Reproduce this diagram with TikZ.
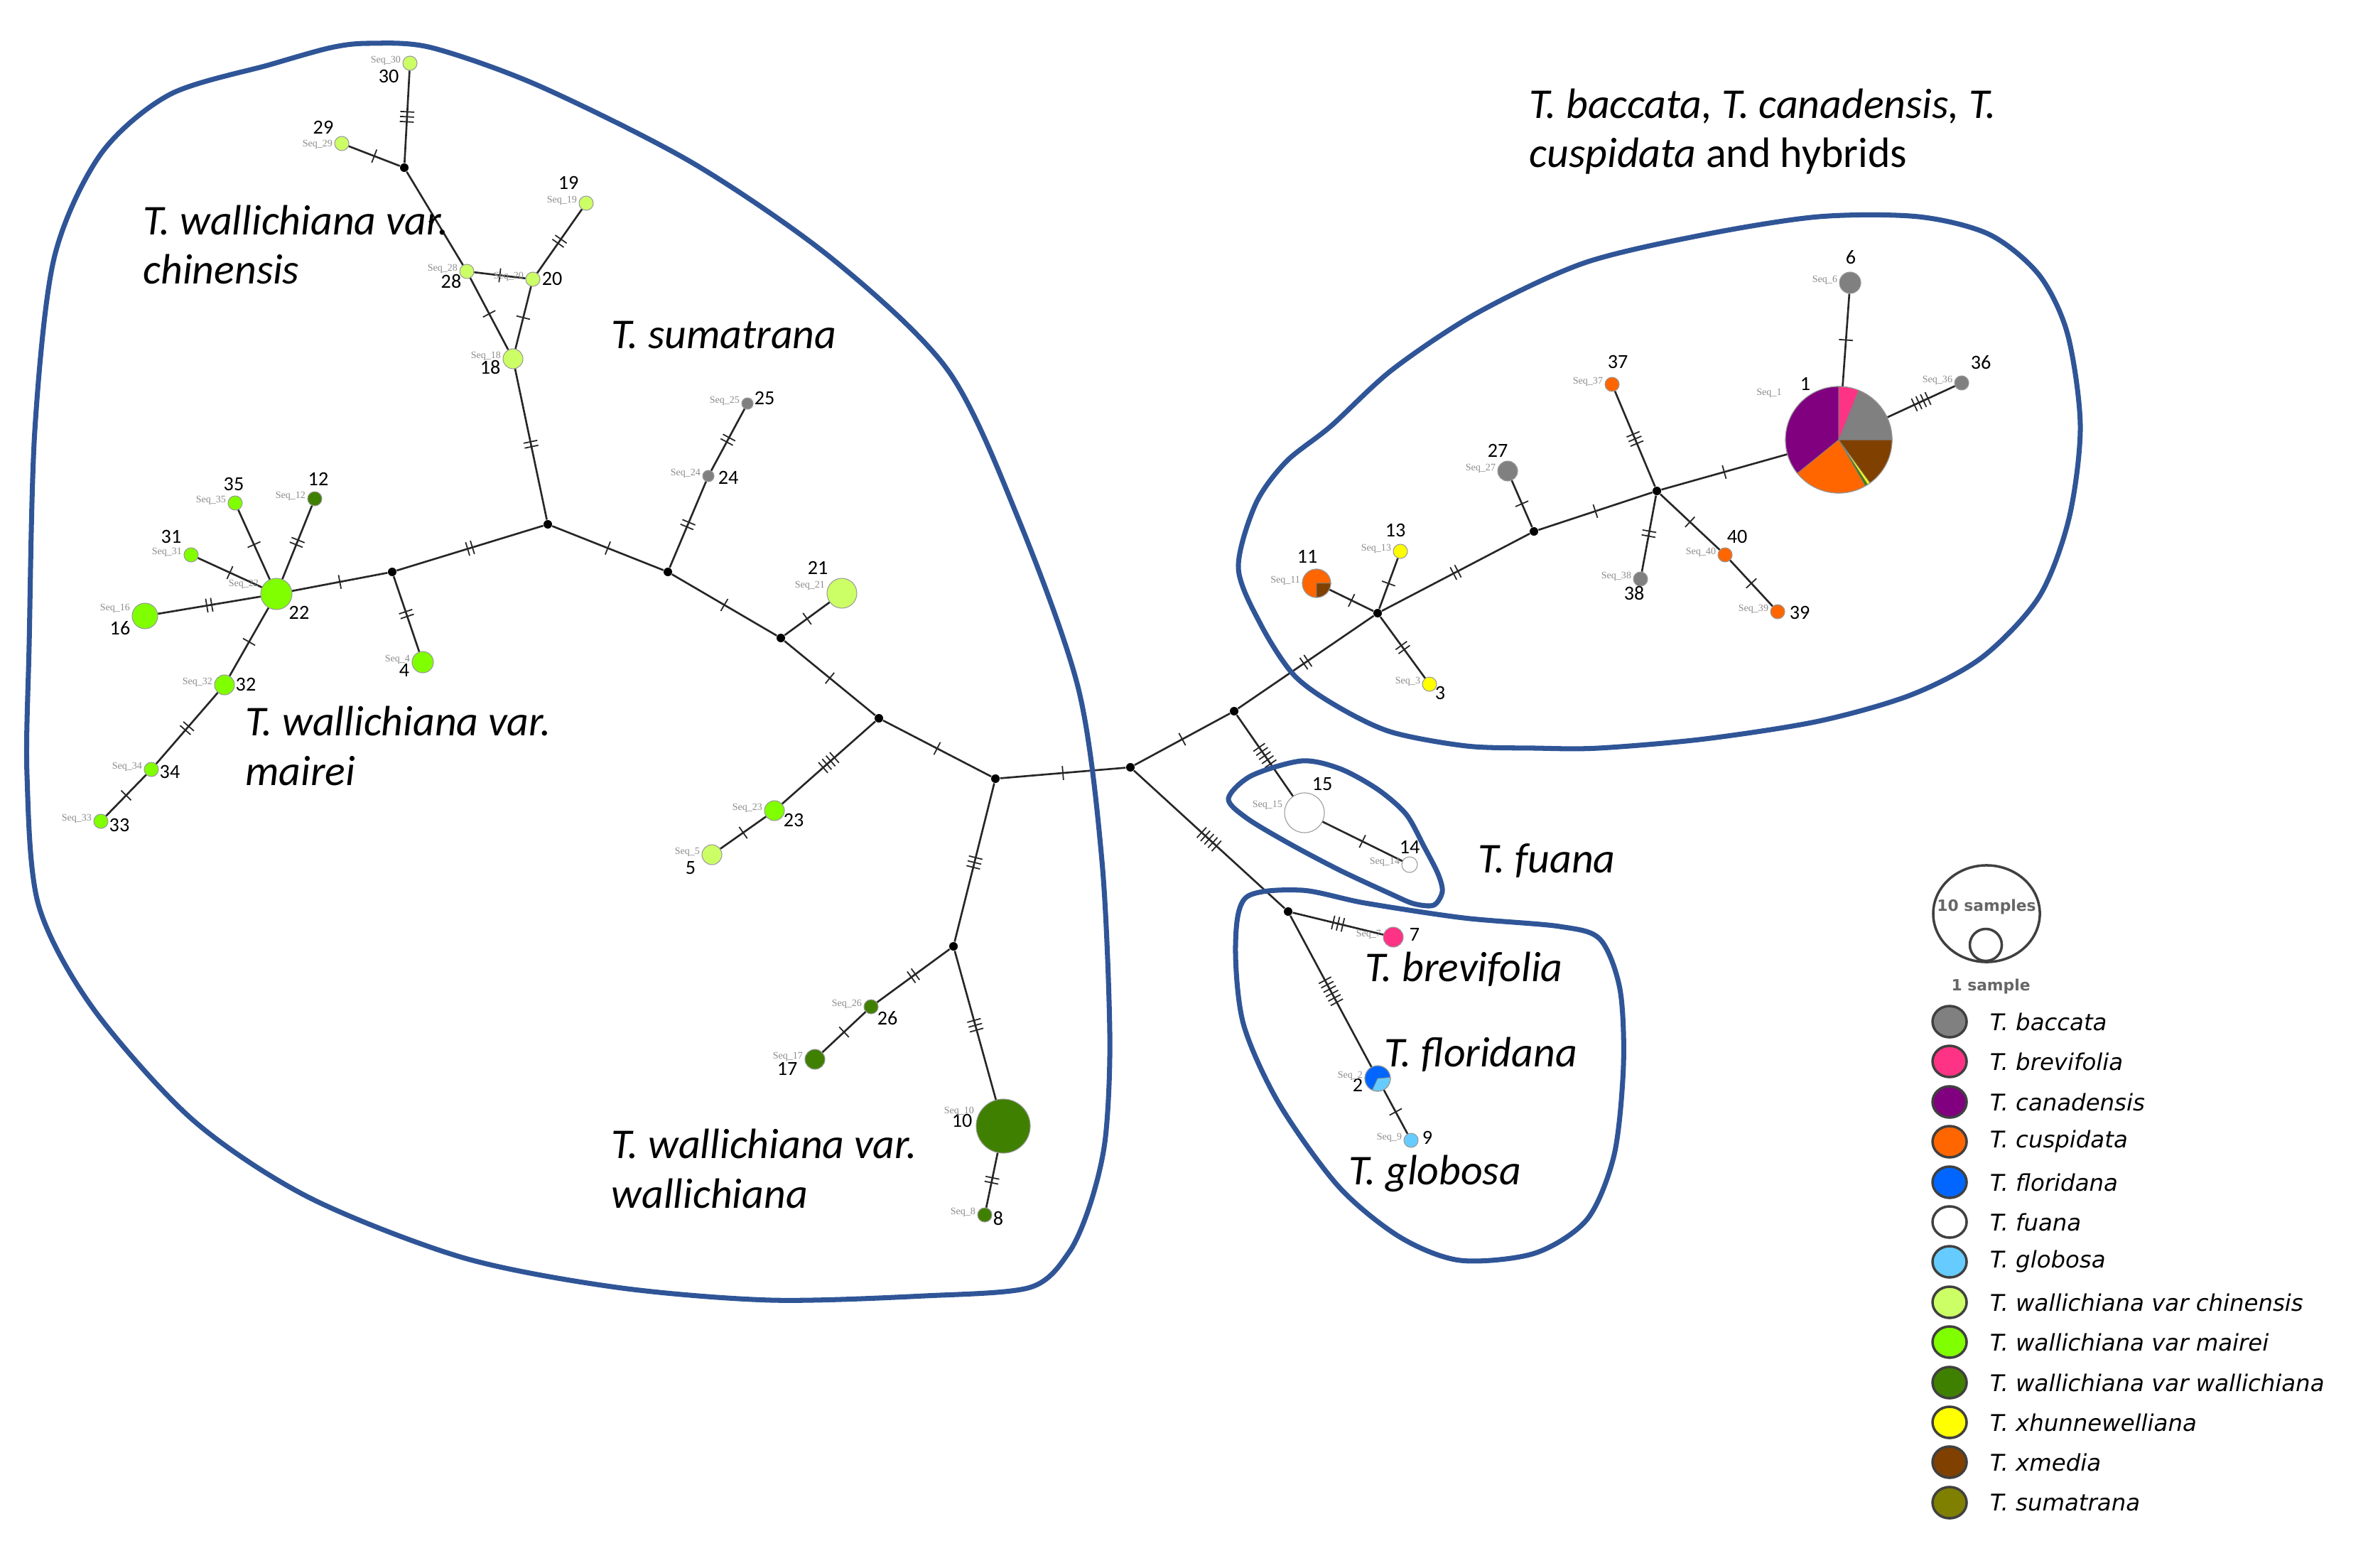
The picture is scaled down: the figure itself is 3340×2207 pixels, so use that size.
\documentclass[tikz,border=0pt]{standalone}
\usepackage{fontspec}
\setmainfont{Carlito}
\newfontfamily\legfont{DejaVu Sans}
\newfontfamily\seqfont{Liberation Serif}
\usetikzlibrary{decorations.markings, shapes.geometric}

\definecolor{baccata}{HTML}{808080}
\definecolor{brevifolia}{HTML}{FF3385}
\definecolor{canadensis}{HTML}{800080}
\definecolor{cuspidata}{HTML}{FF6600}
\definecolor{floridana}{HTML}{0066FF}
\definecolor{globosa}{HTML}{66CCFF}
\definecolor{chinensis}{HTML}{CCFF66}
\definecolor{mairei}{HTML}{80FF00}
\definecolor{wallich}{HTML}{408000}
\definecolor{hunnew}{HTML}{FFFF00}
\definecolor{xmedia}{HTML}{804000}
\definecolor{sumatrana}{HTML}{808000}
\definecolor{hull}{HTML}{2F5597}

\tikzset{
  hap/.style={circle, inner sep=0pt, minimum size=#1*0.02cm, draw=black!40, line width=0.3pt},
  median/.style={circle, fill=black, inner sep=0pt, minimum size=0.12cm},
  link/.style={line width=0.75pt, black!85},
  mut/.style={postaction={decorate, decoration={markings,
    mark=at position 0.5 with {\foreach \k in {1,...,#1} {\draw[line width=0.5pt] ({(\k-(#1+1)/2)*2pt},-2.8pt) -- ++(0,5.6pt);}}}}},
  num/.style={font=\fontsize{8}{9}\selectfont, inner sep=0pt},
  seq/.style={font=\seqfont\fontsize{4}{4}\selectfont, text=black!45, inner sep=0.5pt, anchor=east},
  grouplabel/.style={font=\fontsize{17}{19.9}\selectfont\itshape, inner sep=0pt, anchor=base west, align=left},
  hullline/.style={draw=hull, line width=2pt},
  legdot/.style={ellipse, draw=black!75, line width=1pt, minimum width=0.48cm, minimum height=0.44cm, inner sep=0pt},
  legtext/.style={font=\legfont\itshape\fontsize{9.2}{10}\selectfont, anchor=west, inner sep=0pt},
  sizetext/.style={font=\legfont\bfseries\fontsize{6.2}{6.5}\selectfont, text=black!60, inner sep=0pt},
}

% one wedge of a pie chart: x, y, radius, start, end, colour
\newcommand{\pieslice}[6]{\fill[#6, draw=black!50, line width=0.2pt] (#1,#2) -- ++(#4:#3) arc[start angle=#4, end angle=#5, radius=#3] -- cycle;}

\begin{document}
\begin{tikzpicture}[x=0.01cm, y=-0.01cm]
  \useasboundingbox (0,0) rectangle (3340,2207);

  % Pie charts of the mixed haplotypes
  \pieslice{2588}{619}{75}{-90}{-219}{canadensis}
  \pieslice{2588}{619}{75}{-219}{-300}{cuspidata}
  \pieslice{2588}{619}{75}{-300}{-303}{wallich}
  \pieslice{2588}{619}{75}{-303}{-306}{hunnew}
  \pieslice{2588}{619}{75}{-306}{-360}{xmedia}
  \pieslice{2588}{619}{75}{0}{-68}{baccata}
  \pieslice{2588}{619}{75}{-68}{-90}{brevifolia}
  \pieslice{1853}{821}{20}{90}{360}{cuspidata}
  \pieslice{1853}{821}{20}{0}{90}{xmedia}
  \pieslice{1939}{1518}{18}{115}{355}{floridana}
  \pieslice{1939}{1518}{18}{-5}{115}{globosa}

  % Haplotypes
  \node[hap=10, fill=chinensis] (n30) at (577,89) {};
  \node[hap=10, fill=chinensis] (n29) at (481,202) {};
  \node[hap=10, fill=chinensis] (n28) at (657,382) {};
  \node[hap=10, fill=chinensis] (n20) at (750,393) {};
  \node[hap=10, fill=chinensis] (n19) at (825,286) {};
  \node[hap=14, fill=chinensis] (n18) at (722,505) {};
  \node[hap=15, fill=mairei] (n4) at (595,932) {};
  \node[hap=22, fill=mairei] (n22) at (389,836) {};
  \node[hap=10, fill=mairei] (n35) at (331,708) {};
  \node[hap=10, fill=wallich] (n12) at (443,702) {};
  \node[hap=10, fill=mairei] (n31) at (269,781) {};
  \node[hap=18, fill=mairei] (n16) at (204,867) {};
  \node[hap=14, fill=mairei] (n32) at (316,964) {};
  \node[hap=10, fill=mairei] (n34) at (213,1083) {};
  \node[hap=10, fill=mairei] (n33) at (142,1156) {};
  \node[hap=8, fill=baccata] (n24) at (997,670) {};
  \node[hap=8, fill=baccata] (n25) at (1052,568) {};
  \node[hap=21, fill=chinensis] (n21) at (1185,835) {};
  \node[hap=14, fill=mairei] (n23) at (1090,1141) {};
  \node[hap=14, fill=chinensis] (n5) at (1002,1203) {};
  \node[hap=10, fill=wallich] (n26) at (1226,1417) {};
  \node[hap=14, fill=wallich] (n17) at (1147,1491) {};
  \node[hap=38, fill=wallich] (n10) at (1412,1585) {};
  \node[hap=10, fill=wallich] (n8) at (1386,1710) {};
  \node[hap=28, fill=white] (n15) at (1836,1144) {};
  \node[hap=11, fill=white] (n14) at (1984,1217) {};
  \node[hap=14, fill=brevifolia] (n7) at (1961,1319) {};
  \node[hap=18] (n2) at (1939,1518) {};
  \node[hap=10, fill=globosa] (n9) at (1986,1605) {};
  \node[hap=20] (n11) at (1853,821) {};
  \node[hap=10, fill=hunnew] (n13) at (1971,776) {};
  \node[hap=10, fill=hunnew] (n3) at (2012,963) {};
  \node[hap=14, fill=baccata] (n27) at (2122,663) {};
  \node[hap=10, fill=cuspidata] (n37) at (2269,541) {};
  \node[hap=10, fill=baccata] (n38) at (2309,815) {};
  \node[hap=10, fill=cuspidata] (n40) at (2428,781) {};
  \node[hap=10, fill=cuspidata] (n39) at (2502,861) {};
  \node[hap=75] (n1) at (2588,619) {};
  \node[hap=15, fill=baccata] (n6) at (2604,398) {};
  \node[hap=10, fill=baccata] (n36) at (2761,539) {};

  % Median vectors
  \node[median] (m1) at (569,236) {};
  \node[median] (m2) at (771,738) {};
  \node[median] (m3) at (552,805) {};
  \node[median] (m4) at (940,805) {};
  \node[median] (m5) at (1099,898) {};
  \node[median] (m6) at (1237,1011) {};
  \node[median] (m7) at (1401,1096) {};
  \node[median] (m8) at (1591,1080) {};
  \node[median] (m9) at (1342,1332) {};
  \node[median] (m10) at (1737,1001) {};
  \node[median] (m11) at (1813,1283) {};
  \node[median] (m12) at (1939,863) {};
  \node[median] (m13) at (2159,748) {};
  \node[median] (m14) at (2332,691) {};

  % Links with their mutation ticks
  \draw[link, mut=3] (n30) -- (m1);
  \draw[link, mut=1] (n29) -- (m1);
  \draw[link, mut=1] (m1) -- (n28);
  \draw[link, mut=1] (n28) -- (n20);
  \draw[link, mut=2] (n20) -- (n19);
  \draw[link, mut=1] (n28) -- (n18);
  \draw[link, mut=1] (n20) -- (n18);
  \draw[link, mut=2] (n18) -- (m2);
  \draw[link, mut=2] (m2) -- (m3);
  \draw[link, mut=2] (m3) -- (n4);
  \draw[link, mut=1] (m3) -- (n22);
  \draw[link, mut=2] (n22) -- (n12);
  \draw[link, mut=1] (n22) -- (n35);
  \draw[link, mut=1] (n22) -- (n31);
  \draw[link, mut=2] (n22) -- (n16);
  \draw[link, mut=1] (n22) -- (n32);
  \draw[link, mut=2] (n32) -- (n34);
  \draw[link, mut=1] (n34) -- (n33);
  \draw[link, mut=1] (m2) -- (m4);
  \draw[link, mut=2] (m4) -- (n24);
  \draw[link, mut=2] (n24) -- (n25);
  \draw[link, mut=1] (m4) -- (m5);
  \draw[link, mut=1] (m5) -- (n21);
  \draw[link, mut=1] (m5) -- (m6);
  \draw[link, mut=4] (m6) -- (n23);
  \draw[link, mut=1] (n23) -- (n5);
  \draw[link, mut=1] (m6) -- (m7);
  \draw[link, mut=1] (m7) -- (m8);
  \draw[link, mut=3] (m7) -- (m9);
  \draw[link, mut=2] (m9) -- (n26);
  \draw[link, mut=1] (n26) -- (n17);
  \draw[link, mut=3] (m9) -- (n10);
  \draw[link, mut=2] (n10) -- (n8);
  \draw[link, mut=1] (m8) -- (m10);
  \draw[link, mut=5] (m8) -- (m11);
  \draw[link, mut=5] (m10) -- (n15);
  \draw[link, mut=1] (n15) -- (n14);
  \draw[link, mut=3] (m11) -- (n7);
  \draw[link, mut=6] (m11) -- (n2);
  \draw[link, mut=1] (n2) -- (n9);
  \draw[link, mut=2] (m10) -- (m12);
  \draw[link, mut=1] (m12) -- (n11);
  \draw[link, mut=1] (m12) -- (n13);
  \draw[link, mut=2] (m12) -- (n3);
  \draw[link, mut=2] (m12) -- (m13);
  \draw[link, mut=1] (m13) -- (n27);
  \draw[link, mut=1] (m13) -- (m14);
  \draw[link, mut=3] (m14) -- (n37);
  \draw[link, mut=2] (m14) -- (n38);
  \draw[link, mut=1] (m14) -- (n40);
  \draw[link, mut=1] (n40) -- (n39);
  \draw[link, mut=1] (m14) -- (n1);
  \draw[link, mut=1] (n1) -- (n6);
  \draw[link, mut=4] (n1) -- (n36);

  % Group outlines
  \draw[hullline] plot[smooth cycle] coordinates {(520,61) (607,67) (759,121) (976,230) (1171,364) (1334,521) (1432,727) (1518,970) (1551,1212) (1562,1455) (1556,1600) (1536,1690) (1505,1762) (1450,1812) (1301,1824) (1085,1830) (868,1812) (651,1770) (434,1685) (271,1576) (130,1418) (54,1273) (38,1091) (41,909) (49,606) (76,364) (141,218) (239,133) (380,91) (466,67)};
  \draw[hullline] plot[smooth cycle] coordinates {(1743,800) (1767,710) (1810,650) (1873,600) (1960,520) (2080,440) (2230,370) (2400,330) (2560,305) (2700,305) (2800,330) (2870,387) (2910,470) (2928,600) (2912,730) (2870,840) (2790,925) (2690,978) (2560,1015) (2400,1040) (2250,1053) (2160,1053) (2064,1050) (1957,1030) (1880,993) (1821,950) (1775,880)};
  \draw[hullline] plot[smooth cycle] coordinates {(1729,1124) (1761,1092) (1832,1071) (1886,1082) (1939,1111) (1979,1146) (2004,1191) (2024,1230) (2030,1255) (2018,1274) (1990,1272) (1957,1258) (1886,1225) (1814,1187) (1754,1151)};
  \draw[hullline] plot[smooth cycle] coordinates {(1754,1263) (1832,1253) (1921,1271) (2060,1292) (2195,1304) (2252,1322) (2280,1392) (2285,1499) (2272,1625) (2234,1716) (2160,1764) (2055,1774) (1970,1741) (1884,1670) (1800,1553) (1750,1441) (1739,1330)};

  % Haplotype numbers
  \node[num] (l30) at (547,107) {30};
  \node[num] (l29) at (455,179) {29};
  \node[num] (l28) at (635,396) {28};
  \node[num] (l20) at (777,392) {20};
  \node[num] (l19) at (800,257) {19};
  \node[num] (l18) at (690,517) {18};
  \node[num] (l25) at (1076,560) {25};
  \node[num] (l24) at (1025,672) {24};
  \node[num] (l21) at (1151,799) {21};
  \node[num] (l4) at (569,943) {4};
  \node[num] (l35) at (329,681) {35};
  \node[num] (l12) at (448,674) {12};
  \node[num] (l31) at (241,755) {31};
  \node[num] (l22) at (421,862) {22};
  \node[num] (l16) at (169,884) {16};
  \node[num] (l32) at (346,963) {32};
  \node[num] (l34) at (239,1086) {34};
  \node[num] (l33) at (168,1161) {33};
  \node[num] (l23) at (1117,1154) {23};
  \node[num] (l5) at (972,1222) {5};
  \node[num] (l26) at (1249,1433) {26};
  \node[num] (l17) at (1108,1504) {17};
  \node[num] (l10) at (1354,1577) {10};
  \node[num] (l8) at (1405,1715) {8};
  \node[num] (l15) at (1861,1104) {15};
  \node[num] (l14) at (1984,1192) {14};
  \node[num] (l7) at (1991,1315) {7};
  \node[num] (l2) at (1911,1527) {2};
  \node[num] (l9) at (2009,1601) {9};
  \node[num] (l3) at (2027,975) {3};
  \node[num] (l11) at (1840,783) {11};
  \node[num] (l13) at (1964,746) {13};
  \node[num] (l27) at (2108,634) {27};
  \node[num] (l37) at (2277,509) {37};
  \node[num] (l38) at (2300,835) {38};
  \node[num] (l40) at (2445,755) {40};
  \node[num] (l39) at (2533,862) {39};
  \node[num] (l1) at (2541,540) {1};
  \node[num] (l6) at (2605,362) {6};
  \node[num] (l36) at (2788,510) {36};

  % Sequence names
  \node[seq] (s30) at ([yshift=1pt]n30.west) {Seq\_30};
  \node[seq] (s29) at ([yshift=-0.5pt]n29.west) {Seq\_29};
  \node[seq] (s28) at ([yshift=1pt]n28.west) {Seq\_28};
  \node[seq] (s20) at ([yshift=1pt]n20.west) {Seq\_20};
  \node[seq] (s19) at ([yshift=1pt]n19.west) {Seq\_19};
  \node[seq] (s18) at ([yshift=1pt]n18.west) {Seq\_18};
  \node[seq] (s25) at ([yshift=1pt]n25.west) {Seq\_25};
  \node[seq] (s24) at ([yshift=1pt]n24.west) {Seq\_24};
  \node[seq] (s21) at ([yshift=3pt]n21.west) {Seq\_21};
  \node[seq] (s4) at ([yshift=1pt]n4.west) {Seq\_4};
  \node[seq] (s22) at ([yshift=4pt]n22.west) {Seq\_22};
  \node[seq] (s35) at ([yshift=1pt]n35.west) {Seq\_35};
  \node[seq] (s12) at ([yshift=1pt]n12.west) {Seq\_12};
  \node[seq] (s31) at ([yshift=1pt]n31.west) {Seq\_31};
  \node[seq] (s16) at ([yshift=3pt]n16.west) {Seq\_16};
  \node[seq] (s32) at ([yshift=1pt]n32.west) {Seq\_32};
  \node[seq] (s34) at ([yshift=1pt]n34.west) {Seq\_34};
  \node[seq] (s33) at ([yshift=1pt]n33.west) {Seq\_33};
  \node[seq] (s23) at ([yshift=1pt]n23.west) {Seq\_23};
  \node[seq] (s5) at ([yshift=1pt]n5.west) {Seq\_5};
  \node[seq] (s26) at ([yshift=1pt]n26.west) {Seq\_26};
  \node[seq] (s17) at ([yshift=1pt]n17.west) {Seq\_17};
  \node[seq] (s10) at ([yshift=6pt]n10.west) {Seq\_10};
  \node[seq] (s8) at ([yshift=1pt]n8.west) {Seq\_8};
  \node[seq] (s15) at ([yshift=3pt]n15.west) {Seq\_15};
  \node[seq] (s14) at ([yshift=1pt]n14.west) {Seq\_14};
  \node[seq] (s7) at ([yshift=1pt]n7.west) {Seq\_7};
  \node[seq] (s2) at ([yshift=1pt]n2.west) {Seq\_2};
  \node[seq] (s9) at ([yshift=1pt]n9.west) {Seq\_9};
  \node[seq] (s11) at ([yshift=1pt]n11.west) {Seq\_11};
  \node[seq] (s13) at ([yshift=1pt]n13.west) {Seq\_13};
  \node[seq] (s3) at ([yshift=1pt]n3.west) {Seq\_3};
  \node[seq] (s27) at ([yshift=1pt]n27.west) {Seq\_27};
  \node[seq] (s37) at ([yshift=1pt]n37.west) {Seq\_37};
  \node[seq] (s38) at ([yshift=1pt]n38.west) {Seq\_38};
  \node[seq] (s40) at ([yshift=1pt]n40.west) {Seq\_40};
  \node[seq] (s39) at ([yshift=1pt]n39.west) {Seq\_39};
  \node[seq] (s1) at (2510,553) {Seq\_1};
  \node[seq] (s6) at ([yshift=1pt]n6.west) {Seq\_6};
  \node[seq] (s36) at ([yshift=1pt]n36.west) {Seq\_36};

  % Group names (base is the last line)
  \node[grouplabel] (gchin) at (201,400) {T. wallichiana var.\\chinensis};
  \node[grouplabel] (gsum) at (860,491) {T. sumatrana};
  \node[grouplabel] (gmai) at (345,1105) {T. wallichiana var.\\mairei};
  \node[grouplabel] (gwal) at (860,1700) {T. wallichiana var.\\wallichiana};
  \node[grouplabel] (gbac) at (2152,236) {T. baccata, T. canadensis, T.\\cuspidata {\upshape and hybrids}};
  \node[grouplabel] (gfua) at (2080,1228) {T. fuana};
  \node[grouplabel] (gbre) at (1921,1381) {T. brevifolia};
  \node[grouplabel] (gflo) at (1948,1501) {T. floridana};
  \node[grouplabel] (gglo) at (1898,1667) {T. globosa};

  % Legend
  \node[ellipse, draw=black!75, line width=1pt, minimum width=1.5cm, minimum height=1.36cm, inner sep=0pt] (sizebig) at (2796,1286) {};
  \node[circle, draw=black!75, line width=1pt, minimum size=0.45cm, inner sep=0pt] (sizesmall) at (2795,1330) {};
  \node[sizetext] (sizebigtxt) at (2796,1276) {10 samples};
  \node[sizetext] (sizesmalltxt) at (2802,1388) {1 sample};

  \node[legdot, fill=baccata] (k1) at (2744,1438) {};
  \node[legdot, fill=brevifolia] (k2) at (2744,1494) {};
  \node[legdot, fill=canadensis] (k3) at (2744,1551) {};
  \node[legdot, fill=cuspidata] (k4) at (2744,1607) {};
  \node[legdot, fill=floridana] (k5) at (2744,1664) {};
  \node[legdot, fill=white] (k6) at (2744,1720) {};
  \node[legdot, fill=globosa] (k7) at (2744,1776) {};
  \node[legdot, fill=chinensis] (k8) at (2744,1833) {};
  \node[legdot, fill=mairei] (k9) at (2744,1889) {};
  \node[legdot, fill=wallich] (k10) at (2744,1946) {};
  \node[legdot, fill=hunnew] (k11) at (2744,2002) {};
  \node[legdot, fill=xmedia] (k12) at (2744,2058) {};
  \node[legdot, fill=sumatrana] (k13) at (2744,2115) {};

  \node[legtext] (t1) at (2800,1438) {T. baccata};
  \node[legtext] (t2) at (2800,1494) {T. brevifolia};
  \node[legtext] (t3) at (2800,1551) {T. canadensis};
  \node[legtext] (t4) at (2800,1607) {T. cuspidata};
  \node[legtext] (t5) at (2800,1664) {T. floridana};
  \node[legtext] (t6) at (2800,1720) {T. fuana};
  \node[legtext] (t7) at (2800,1776) {T. globosa};
  \node[legtext] (t8) at (2800,1833) {T. wallichiana var chinensis};
  \node[legtext] (t9) at (2800,1889) {T. wallichiana var mairei};
  \node[legtext] (t10) at (2800,1946) {T. wallichiana var wallichiana};
  \node[legtext] (t11) at (2800,2002) {T. xhunnewelliana};
  \node[legtext] (t12) at (2800,2058) {T. xmedia};
  \node[legtext] (t13) at (2800,2115) {T. sumatrana};

\end{tikzpicture}
\end{document}
